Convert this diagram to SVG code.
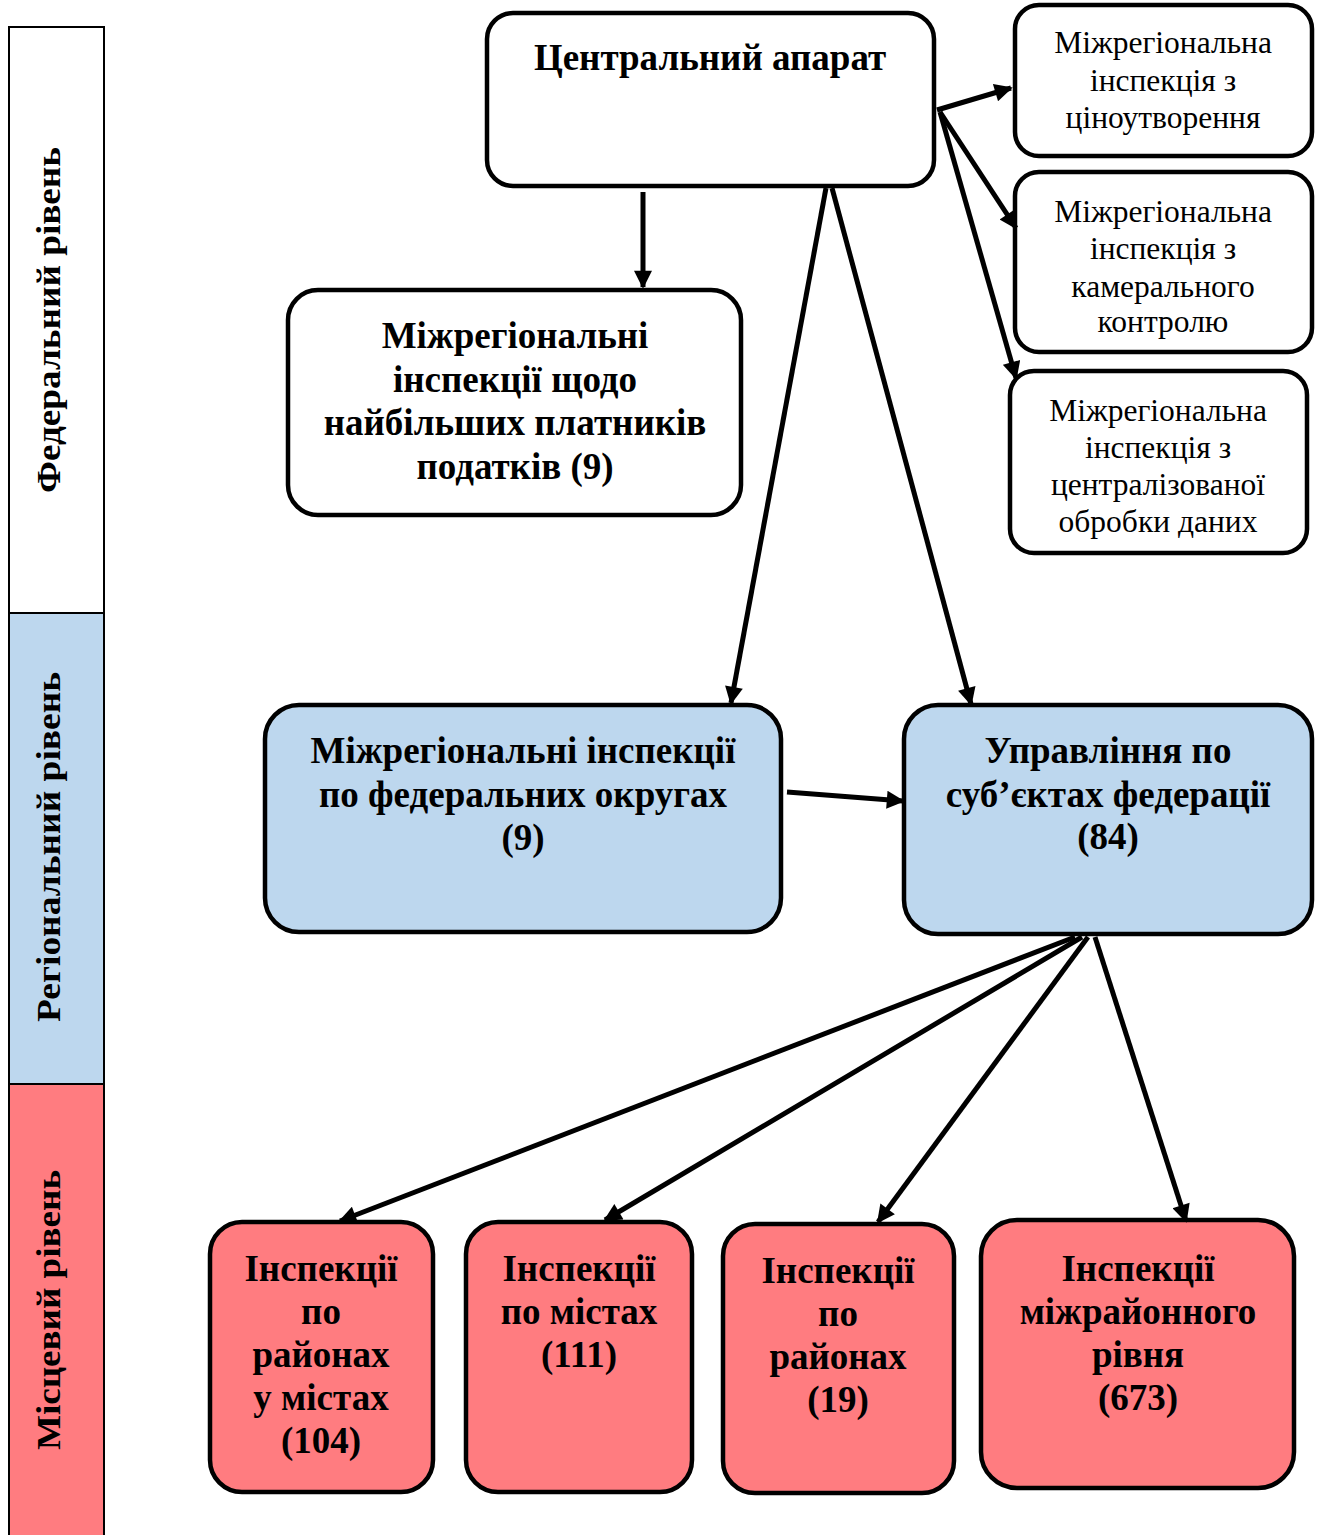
<svg xmlns="http://www.w3.org/2000/svg" width="1322" height="1535" viewBox="0 0 1322 1535">
<style>
.box{stroke:#000;stroke-width:4.5}
.w{fill:#fff}.b{fill:#BDD7EE}.r{fill:#FF7C80}
.t{font-family:"Liberation Serif","Times New Roman",serif;fill:#000;text-anchor:middle;dominant-baseline:central}
.bd{font-weight:bold;font-size:37px}
.nm{font-size:31.5px}
.lv{font-family:"Liberation Serif","Times New Roman",serif;font-weight:bold;font-size:34px;text-anchor:middle;dominant-baseline:central}
.c line{stroke:#000;stroke-width:5;marker-end:url(#ah)}
</style>
<defs>
<marker id="ah" viewBox="0 0 10 10" refX="9" refY="5" markerWidth="4" markerHeight="3.6" orient="auto" markerUnits="strokeWidth">
<path d="M0,0 L10,5 L0,10 z" fill="#000"/>
</marker>
</defs>
<g id="levels">
<rect x="9" y="27" width="95" height="586" fill="#fff" stroke="#000" stroke-width="2"/>
<rect x="9" y="613" width="95" height="471" fill="#BDD7EE" stroke="#000" stroke-width="2"/>
<rect x="9" y="1084" width="95" height="460" fill="#FF7C80" stroke="#000" stroke-width="2"/>
<text class="lv" transform="translate(48,320) rotate(-90)" textLength="346" lengthAdjust="spacingAndGlyphs">Федеральний рівень</text>
<text class="lv" transform="translate(48,847) rotate(-90)" textLength="350" lengthAdjust="spacingAndGlyphs">Регіональний рівень</text>
<text class="lv" transform="translate(48,1310) rotate(-90)" textLength="280" lengthAdjust="spacingAndGlyphs">Місцевий рівень</text>
</g>
<g id="central">
<rect class="box w" x="487" y="13" width="447" height="173" rx="26"/>
<text class="t bd" x="710" y="57">Центральний апарат</text>
</g>
<g id="pricing">
<rect class="box w" x="1015" y="5" width="297" height="151" rx="24"/>
<text class="t nm" x="1163" y="42">Міжрегіональна</text>
<text class="t nm" x="1163" y="80">інспекція з</text>
<text class="t nm" x="1163" y="117">ціноутворення</text>
</g>
<g id="cameral">
<rect class="box w" x="1015" y="172" width="297" height="180" rx="24"/>
<text class="t nm" x="1163" y="211">Міжрегіональна</text>
<text class="t nm" x="1163" y="248">інспекція з</text>
<text class="t nm" x="1163" y="286">камерального</text>
<text class="t nm" x="1163" y="321">контролю</text>
</g>
<g id="centralized">
<rect class="box w" x="1010" y="371" width="297" height="182" rx="24"/>
<text class="t nm" x="1158" y="410">Міжрегіональна</text>
<text class="t nm" x="1158" y="447">інспекція з</text>
<text class="t nm" x="1158" y="484">централізованої</text>
<text class="t nm" x="1158" y="521">обробки даних</text>
</g>
<g id="largest">
<rect class="box w" x="288" y="290" width="453" height="225" rx="30"/>
<text class="t bd" x="515" y="335">Міжрегіональні</text>
<text class="t bd" x="515" y="379">інспекції щодо</text>
<text class="t bd" x="515" y="422">найбільших платників</text>
<text class="t bd" x="515" y="466">податків (9)</text>
</g>
<g id="districts">
<rect class="box b" x="265" y="705" width="516" height="227" rx="34"/>
<text class="t bd" x="523" y="750">Міжрегіональні інспекції</text>
<text class="t bd" x="523" y="794">по федеральних округах</text>
<text class="t bd" x="523" y="837">(9)</text>
</g>
<g id="subjects">
<rect class="box b" x="904" y="705" width="408" height="229" rx="34"/>
<text class="t bd" x="1108" y="750">Управління по</text>
<text class="t bd" x="1108" y="794">суб’єктах федерації</text>
<text class="t bd" x="1108" y="836">(84)</text>
</g>
<g id="cityDistricts">
<rect class="box r" x="210" y="1222" width="223" height="270" rx="32"/>
<text class="t bd" x="321" y="1268">Інспекції</text>
<text class="t bd" x="321" y="1311">по</text>
<text class="t bd" x="321" y="1354">районах</text>
<text class="t bd" x="321" y="1397">у містах</text>
<text class="t bd" x="321" y="1440">(104)</text>
</g>
<g id="cities">
<rect class="box r" x="466" y="1222" width="226" height="270" rx="32"/>
<text class="t bd" x="579" y="1268">Інспекції</text>
<text class="t bd" x="579" y="1311">по містах</text>
<text class="t bd" x="579" y="1354">(111)</text>
</g>
<g id="regions">
<rect class="box r" x="723" y="1224" width="231" height="269" rx="32"/>
<text class="t bd" x="838" y="1270">Інспекції</text>
<text class="t bd" x="838" y="1313">по</text>
<text class="t bd" x="838" y="1356">районах</text>
<text class="t bd" x="838" y="1399">(19)</text>
</g>
<g id="interdistrict">
<rect class="box r" x="981" y="1220" width="313" height="268" rx="36"/>
<text class="t bd" x="1138" y="1268">Інспекції</text>
<text class="t bd" x="1138" y="1311">міжрайонного</text>
<text class="t bd" x="1138" y="1354">рівня</text>
<text class="t bd" x="1138" y="1397">(673)</text>
</g>
<g id="connectors" class="c">
<line x1="643" y1="192" x2="643" y2="287"/>
<line x1="937" y1="110" x2="1011" y2="88"/>
<line x1="940" y1="112" x2="1016" y2="228"/>
<line x1="940" y1="112" x2="1016" y2="378"/>
<line x1="826" y1="188" x2="731" y2="703"/>
<line x1="832" y1="188" x2="971" y2="704"/>
<line x1="787" y1="792" x2="903" y2="801"/>
<line x1="1075" y1="937" x2="340" y2="1221"/>
<line x1="1082" y1="937" x2="605" y2="1220"/>
<line x1="1088" y1="937" x2="878" y2="1222"/>
<line x1="1095" y1="937" x2="1186" y2="1221"/>
</g>
</svg>
